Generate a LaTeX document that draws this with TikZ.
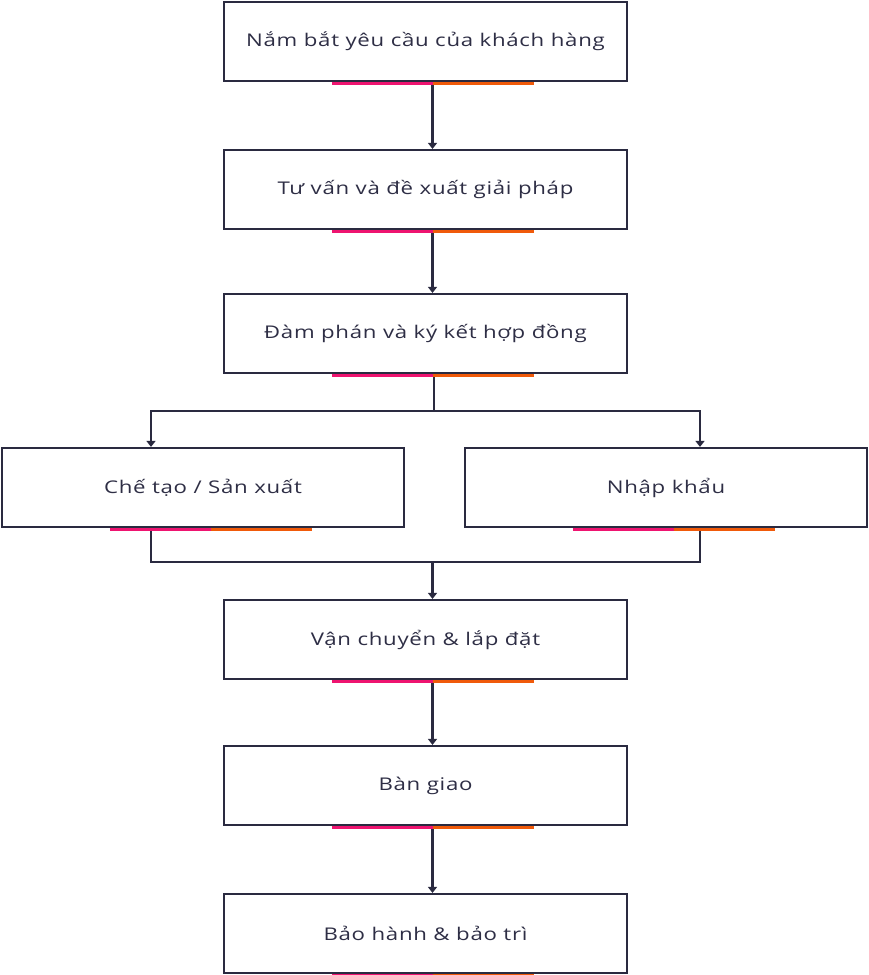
\documentclass[tikz,border=0pt]{standalone}
\usepackage{fontspec}
\setmainfont{Open Sans}[FakeStretch=1.27,LetterSpace=4]
\usetikzlibrary{arrows.meta,calc}
\definecolor{ink}{HTML}{2A2A40}
\definecolor{txt}{HTML}{2E2E45}
\definecolor{barpink}{HTML}{EE1470}
\definecolor{barorange}{HTML}{F05A0A}
\tikzset{
  x=1pt,y=-1pt,
  box/.style={draw=ink,line width=2.2pt,fill=white,rectangle,inner sep=0pt,
    minimum width=403pt,minimum height=79pt,text=txt,font=\fontsize{17.5}{20}\selectfont},
  link/.style={draw=ink,line width=2.2pt},
  arr/.style={link,-{Triangle[width=9pt,length=6pt]}},
  pinkbar/.style={draw=barpink,line width=3pt},
  orangebar/.style={draw=barorange,line width=3pt},
}
\newcommand{\bars}[1]{%
  \draw[pinkbar] ([xshift=109pt,yshift=-1.5pt]#1.south west) -- ([xshift=210pt,yshift=-1.5pt]#1.south west);
  \draw[orangebar] ([xshift=210pt,yshift=-1.5pt]#1.south west) -- ([xshift=311pt,yshift=-1.5pt]#1.south west);}
\begin{document}
\begin{tikzpicture}
\useasboundingbox[fill=white] (0,0) rectangle (869,975);
\node[box] (b1) at (425.5,41.5) {Nắm bắt yêu cầu của khách hàng};
\node[box] (b2) at (425.5,189.5) {Tư vấn và đề xuất giải pháp};
\node[box] (b3) at (425.5,333.5) {Đàm phán và ký kết hợp đồng};
\node[box,minimum width=402pt] (b4l) at (203,487.5) {Chế tạo / Sản xuất};
\node[box,minimum width=402pt] (b4r) at (666,487.5) {Nhập khẩu};
\node[box] (b5) at (425.5,639.5) {Vận chuyển \& lắp đặt};
\node[box] (b6) at (425.5,785.5) {Bàn giao};
\node[box] (b7) at (425.5,933.5) {Bảo hành \& bảo trì};
\coordinate (cx) at (432.5,0);
\coordinate (sx) at (434,0);
\coordinate (lx) at (151,0);
\coordinate (rx) at (700,0);
\coordinate (split) at (434,411);
\coordinate (merge) at (432.5,562);
% connectors
\draw[arr] (b1.south -| cx) -- (b2.north -| cx);
\draw[arr] (b2.south -| cx) -- (b3.north -| cx);
\draw[link] (b3.south -| sx) -- (split);
\draw[arr] (split) -| (b4l.north -| lx);
\draw[arr] (split) -| (b4r.north -| rx);
\draw[link] (b4l.south -| lx) |- (merge);
\draw[link] (b4r.south -| rx) |- (merge);
\draw[arr] (merge) -- (b5.north -| cx);
\draw[arr] (b5.south -| cx) -- (b6.north -| cx);
\draw[arr] (b6.south -| cx) -- (b7.north -| cx);
% colour bars
\bars{b1}\bars{b2}\bars{b3}\bars{b4l}\bars{b4r}\bars{b5}\bars{b6}\bars{b7}
\end{tikzpicture}
\end{document}
